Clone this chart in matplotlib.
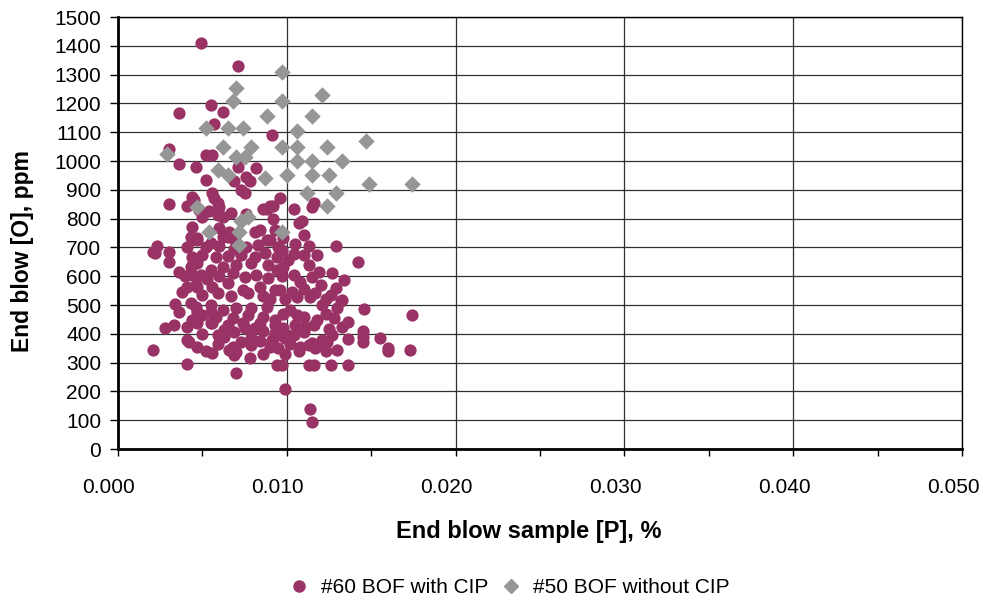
import matplotlib
matplotlib.use("Agg")
import matplotlib.pyplot as plt
from matplotlib.ticker import MultipleLocator, FormatStrFormatter
from matplotlib.lines import Line2D
from matplotlib.transforms import ScaledTranslation

plt.rcParams['font.family'] = ['Liberation Sans', 'DejaVu Sans']

# #60 BOF with CIP: end blow [P] (in thousandths of a percent) and [O] ppm
p60_milli = [
    4.9, 7.1, 5.5, 6.2, 3.6, 5.7, 9.1, 3.0, 5.2, 5.6, 3.6, 4.6, 7.1, 8.2, 5.2, 6.9, 7.6, 7.8,
    5.6, 5.7, 7.3, 7.5, 4.4, 9.6, 3.0, 4.1, 4.5, 5.9, 6.0, 8.6, 8.8, 9.0, 9.2, 10.4, 11.5, 11.6,
    4.8, 5.0, 5.4, 5.9, 6.2, 6.7, 7.6, 9.2, 10.9, 10.7, 8.4, 6.0, 4.4, 4.3, 4.7, 6.2, 6.6, 6.8,
    7.0, 8.8, 9.8, 11.0, 12.9, 11.3, 9.7, 2.3, 2.1, 2.2, 3.0, 3.0, 4.1, 4.7, 4.4, 4.4, 4.3, 3.6,
    4.0, 4.4, 10.1, 11.8, 11.0, 11.3, 14.2, 12.7, 13.4, 12.0, 12.9, 11.5, 10.4, 9.8, 13.3, 13.0,
    12.1, 13.6, 12.6, 11.4, 10.6, 9.6, 10.2, 11.0, 11.8, 9.3, 14.6, 17.4, 13.2, 14.5, 14.5, 14.5,
    15.5, 16.0, 16.0, 17.3, 13.6, 12.4, 12.1, 11.5, 12.0, 12.7, 11.3, 11.7, 10.4, 10.0, 9.6, 9.3,
    9.1, 9.9, 10.5, 11.1, 11.6, 13.6, 12.6, 11.6, 11.3, 9.7, 9.4, 9.9, 11.4, 11.5, 7.0, 2.1,
    4.1, 2.8, 3.3, 3.6, 4.1, 4.2, 4.7, 5.2, 5.6, 4.1, 4.6, 4.3, 4.7, 4.4, 4.1, 5.5, 5.6, 6.3,
    6.3, 6.8, 7.0, 7.8, 7.9, 7.9, 7.9, 9.0, 9.1, 8.1, 6.6, 6.9,
    5.5, 8.1, 9.0, 9.3, 6.5, 4.4, 4.7, 5.5, 6.2, 7.0, 7.9, 8.9, 9.4, 4.7, 5.6, 6.5, 7.4, 8.4,
    9.3, 4.6, 5.5, 6.2, 7.0, 7.9, 8.8, 4.7, 5.5, 6.5, 7.4, 8.4, 9.3,
    5.2, 6.0, 6.9, 7.6, 8.3, 9.5, 10.5,
    5.0, 5.8, 6.5, 7.3, 8.1, 8.7, 9.4, 10.4,
    4.9, 5.3, 6.0, 6.8, 7.5, 8.2, 8.9, 9.7, 10.8, 11.9,
    5.0, 5.9, 6.7, 7.7, 8.6, 9.0, 9.9, 10.3, 11.0, 11.7, 12.3,
    5.0, 5.8, 6.8, 7.7, 8.6, 9.8, 10.6, 12.3, 12.8,
    5.0, 5.9, 6.9, 7.5, 8.6, 9.8, 11.0, 12.5, 13.3,
    5.9, 7.3, 8.4, 9.5, 10.2, 10.8,
    8.6, 9.9, 10.7, 12.3, 13.0,
    3.8, 3.4,
]
o60_ppm = [
    1410, 1330, 1195, 1170, 1165, 1130, 1090, 1040, 1020, 1020, 990, 980, 980, 975, 935, 930, 945, 930,
    890, 870, 900, 890, 875, 870, 850, 845, 865, 855, 840, 835, 835, 845, 845, 835, 840, 855,
    830, 805, 825, 812, 805, 820, 815, 800, 790, 785, 760, 767, 770, 735, 732, 735, 753, 732,
    715, 725, 733, 743, 705, 705, 690, 705, 685, 680, 685, 650, 700, 725, 665, 640, 632, 615,
    600, 605, 656, 673, 673, 640, 650, 610, 586, 570, 560, 597, 603, 632, 517, 490,
    500, 441, 535, 528, 528, 552, 483, 458, 448, 448, 485, 465, 515, 410, 372, 390,
    385, 350, 340, 343, 382, 370, 380, 368, 371, 396, 361, 350, 396, 396, 396, 402,
    375, 385, 431, 422, 431, 290, 290, 290, 290, 290, 290, 210, 140, 95, 265, 345,
    295, 420, 430, 475, 378, 370, 354, 340, 333, 562, 570, 507, 475, 448, 423, 475, 437, 413,
    389, 354, 337, 316, 361, 385, 405, 354, 378, 420, 344, 326,
    717, 753, 726, 760, 736, 726, 646, 622, 632, 639, 646, 639, 622, 562, 562, 576, 552, 562,
    552, 493, 500, 483, 490, 490, 493, 437, 437, 431, 437, 437, 431,
    700, 705, 695, 700, 710, 700, 712,
    675, 665, 670, 672, 668, 680, 665, 678,
    605, 590, 600, 610, 598, 605, 595, 600, 580, 615,
    535, 540, 530, 540, 530, 520, 520, 545, 555, 540, 520,
    465, 460, 455, 465, 460, 470, 465, 470, 455,
    400, 395, 405, 420, 410, 420, 405, 415, 425,
    365, 370, 375, 350, 365, 355,
    330, 330, 340, 340, 345,
    545, 505,
]

# #50 BOF without CIP
p50_milli = [
    7.0, 6.8, 9.7, 9.7, 12.1, 11.5, 8.8, 5.2, 6.5, 7.4, 10.6, 6.2, 7.9, 9.7, 10.6, 12.4, 14.7,
    2.9, 7.0, 7.5, 10.6, 11.5, 13.3, 5.9, 6.5, 8.7, 4.7, 7.7, 7.3, 5.4, 7.2, 7.2, 9.7,
    10.0, 11.5, 12.5, 14.9, 17.4, 11.2, 12.9, 12.4,
]
o50_ppm = [
    1255, 1210, 1310, 1210, 1230, 1155, 1155, 1115, 1115, 1115, 1105, 1050, 1050, 1050, 1050, 1050, 1070,
    1025, 1013, 1013, 1000, 1000, 1000, 968, 950, 940, 840, 805, 790, 755, 755, 710, 755,
    950, 950, 950, 920, 920, 890, 890, 845,
]

label60 = "#60 BOF with CIP"
label50 = "#50 BOF without CIP"
color60 = "#993366"
color50 = "#969696"

p60 = [v / 1000.0 for v in p60_milli]
p50 = [v / 1000.0 for v in p50_milli]

fig = plt.figure(figsize=(9.83, 6.01), dpi=100)
ax = fig.add_axes([0.120, 0.2529, 0.8586, 0.7188])

ax.scatter(p60, o60_ppm, s=78, marker='o', color=color60, linewidths=0, zorder=3)
ax.scatter(p50, o50_ppm, s=70, marker='D', color=color50, linewidths=0, zorder=4)

ax.set_xlim(0, 0.05)
ax.set_ylim(0, 1500)
ax.xaxis.set_major_locator(MultipleLocator(0.01))
ax.xaxis.set_minor_locator(MultipleLocator(0.005))
ax.xaxis.set_major_formatter(FormatStrFormatter('%.3f'))
ax.yaxis.set_major_locator(MultipleLocator(100))

ax.grid(True, which='major', color='#303030', linewidth=0.9, zorder=0)
ax.set_axisbelow(True)

for side in ['top', 'right']:
    ax.spines[side].set_linewidth(1.0)
    ax.spines[side].set_color('black')
for side in ['left', 'bottom']:
    ax.spines[side].set_linewidth(2.0)
    ax.spines[side].set_color('black')

ax.tick_params(axis='both', which='major', direction='out', width=1,
               labelsize=15, colors='black')
ax.tick_params(axis='x', which='major', length=5, pad=16)
ax.tick_params(axis='x', which='minor', direction='out', length=5, width=1)
ax.tick_params(axis='y', which='major', length=6, pad=6)

# category labels sit slightly left of their ticks
shift_left = ScaledTranslation(-0.09, 0, fig.dpi_scale_trans)
for lbl in ax.xaxis.get_majorticklabels():
    lbl.set_transform(lbl.get_transform() + shift_left)

ax.set_xlabel("End blow sample [P], %", fontsize=17, fontweight='bold')
ax.xaxis.set_label_coords(0.487, -0.164)
ax.set_ylabel("End blow [O], ppm", fontsize=16.5, fontweight='bold')
ax.yaxis.set_label_coords(-0.0995, 0.458)

handles = [
    Line2D([], [], linestyle='none', marker='o', markersize=8, color=color60, label=label60),
    Line2D([], [], linestyle='none', marker='D', markersize=7, color=color50, label=label50),
]
fig.legend(handles=handles, loc='center', bbox_to_anchor=(0.517, 0.022), ncol=2,
           frameon=False, fontsize=15, handletextpad=0.45, columnspacing=0.5,
           handlelength=1.2)

fig.savefig("out.png", dpi=100, facecolor='white')
